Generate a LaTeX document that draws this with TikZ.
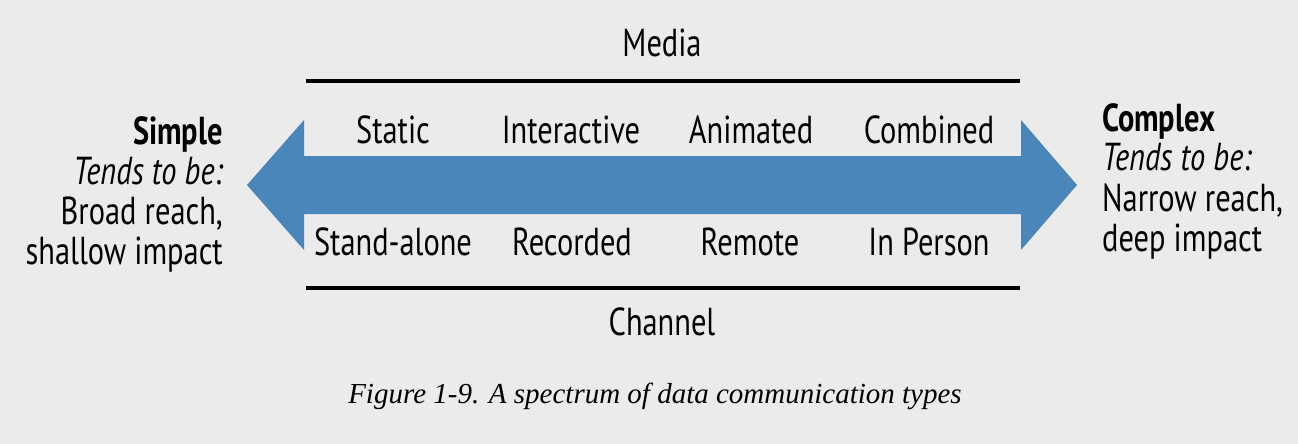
\documentclass[tikz,border=0pt]{standalone}
\usepackage{fontspec}
\setmainfont{PT Sans}[FakeStretch=0.78]
\newfontfamily\capfont{Liberation Serif}
\definecolor{bg}{HTML}{EBEBEB}
\definecolor{arrowblue}{HTML}{4A86B9}
\begin{document}
\begin{tikzpicture}[x=1pt,y=-1pt,
  lbl/.style={inner sep=0pt, anchor=base, font=\fontsize{39}{46}\selectfont},
  lefttxt/.style={inner sep=0pt, anchor=base east, font=\fontsize{39}{46}\selectfont},
  righttxt/.style={inner sep=0pt, anchor=base west, font=\fontsize{39}{46}\selectfont},
  rule/.style={line width=3.5pt, black}]
\fill[bg] (0,0) rectangle (1298,444);
\useasboundingbox (0,0) rectangle (1298,444);
% double arrow
\fill[arrowblue] (247,185) -- (304,120) -- (304,156) -- (1021,156) -- (1021,120) -- (1077,185)
  -- (1021,250) -- (1021,214) -- (304,214) -- (304,250) -- cycle;
% rules
\coordinate (tl) at (306,81); \coordinate (tr) at (1020,81);
\coordinate (bl) at (306,288); \coordinate (br) at (1020,288);
\draw[rule] (tl) -- (tr);
\draw[rule] (bl) -- (br);
% labels
\node[lbl] (media) at (662,57) {Media};
\node[lbl] (channel) at (662,335) {Channel};
\node[lbl] (static) at (393,143) {Static};
\node[lbl] (interactive) at (571,143) {Interactive};
\node[lbl] (animated) at (751,143) {Animated};
\node[lbl] (combined) at (929,143) {Combined};
\node[lbl] (standalone) at (393,255) {Stand-alone};
\node[lbl] (recorded) at (572,255) {Recorded};
\node[lbl] (remote) at (750,255) {Remote};
\node[lbl] (inperson) at (929,255) {In Person};
% left text
\node[lefttxt] (simple) at (223,144) {\bfseries Simple};
\node[lefttxt] (ltends) at (223,184) {\itshape Tends to be:};
\node[lefttxt] (broad) at (223,224) {Broad reach,};
\node[lefttxt] (shallow) at (223,264) {shallow impact};
% right text
\node[righttxt] (complex) at (1102,131) {\bfseries Complex};
\node[righttxt] (rtends) at (1102,170) {\itshape Tends to be:};
\node[righttxt] (narrow) at (1102,211) {Narrow reach,};
\node[righttxt] (deep) at (1102,251) {deep impact};
% caption
\node[inner sep=0pt, anchor=base, font=\capfont\itshape\fontsize{29}{34}\selectfont] (caption) at (655,403) {Figure 1-9. A spectrum of data communication types};
\end{tikzpicture}
\end{document}
